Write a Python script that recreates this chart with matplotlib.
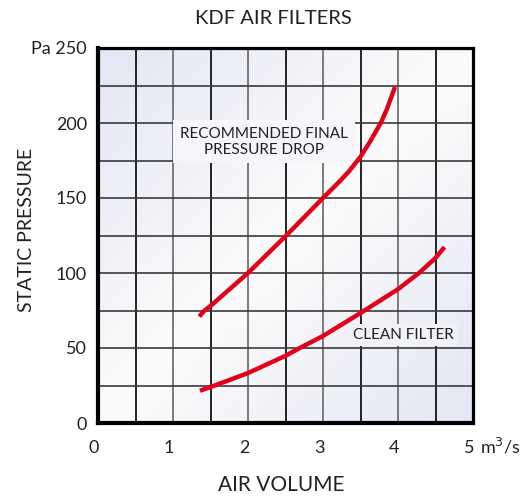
import numpy as np
import matplotlib
matplotlib.use('Agg')
import matplotlib.pyplot as plt
from matplotlib.transforms import ScaledTranslation

plt.rcParams['font.family'] = ['Lato', 'DejaVu Sans']

# Curve data (air volume m3/s, static pressure Pa)
final_x = [1.35, 1.42, 1.5, 2.0, 2.51, 3.0, 3.22, 3.35, 3.5, 3.62, 3.77, 3.85, 3.96]
final_y = [71, 75, 78, 100, 125, 150, 161, 168, 177.5, 187, 200, 209, 224]

clean_x = [1.36, 1.5, 1.75, 2.0, 2.5, 2.69, 3.0, 3.5, 4.0, 4.28, 4.5, 4.62]
clean_y = [21.5, 24.0, 28.6, 33.3, 44.8, 50, 58, 73.3, 89.2, 100, 110, 117.3]

x_ticks = [0, 1, 2, 3, 4, 5]
x_labels = ['0', '1', '2', '3', '4', '5']
y_ticks = [0, 50, 100, 150, 200, 250]
y_labels = ['0', '50', '100', '150', '200', 'Pa 250']

fig = plt.figure(figsize=(5.25, 5.01), dpi=100)
ax = fig.add_axes([98 / 525, 1 - 423 / 501, 375 / 525, 375 / 501])

# background: lavender in top-left / bottom-right corners, white along the other diagonal
u = np.linspace(0, 1, 200)
U, V = np.meshgrid(u, u)
t = np.abs(U - V)
img = np.ones((200, 200, 3))
c = np.array([0.89, 0.90, 0.955])
for k in range(3):
    img[:, :, k] = 0.985 - (0.985 - c[k]) * t ** 1.1
ax.imshow(img, extent=[0, 5, 0, 250], origin='lower', aspect='auto', zorder=0)

ax.set_xlim(0, 5)
ax.set_ylim(0, 250)

# grid lines
for gx in np.arange(0.5, 5, 0.5):
    col = '#000000' if gx % 1 else '#666666'
    ax.axvline(gx, color=col, lw=1.2, zorder=1)
for gy in np.arange(25, 250, 25):
    ax.axhline(gy, color='#3a3a3a', lw=1.2, zorder=1)

ax.plot(final_x, final_y, color='#e3001b', lw=3.2, zorder=3, solid_capstyle='butt')
ax.plot(clean_x, clean_y, color='#e3001b', lw=3.2, zorder=3, solid_capstyle='butt')

ax.text(2.21, 187.5, 'RECOMMENDED FINAL\nPRESSURE DROP', ha='center', va='center',
        multialignment='center', fontsize=11, color='#222222', zorder=2,
        linespacing=1.15,
        bbox=dict(boxstyle='square,pad=0.45', facecolor='#f5f5fa', edgecolor='none'))
ax.text(4.07, 58.8, 'CLEAN FILTER', ha='center', va='center', fontsize=11,
        color='#222222', zorder=2,
        bbox=dict(boxstyle='square,pad=0.25', facecolor='#f1f1f8', edgecolor='none'))

ax.set_xticks(x_ticks)
ax.set_xticklabels(x_labels)
ax.set_yticks(y_ticks)
ax.set_yticklabels(y_labels)
ax.tick_params(length=0, labelsize=13, colors='#222222')
ax.tick_params(axis='x', pad=12)
ax.tick_params(axis='y', pad=8)
shift = ScaledTranslation(-4 / 100, 0, fig.dpi_scale_trans)
for lab in ax.get_xticklabels():
    lab.set_transform(lab.get_transform() + shift)
ax.text(5.1, -20, 'm$^3$/s', ha='left', va='baseline',
        fontsize=13, color='#222222', clip_on=False)

for side in ['left', 'bottom']:
    ax.spines[side].set_linewidth(3)
for side in ['top', 'right']:
    ax.spines[side].set_linewidth(2.3)
for s in ax.spines.values():
    s.set_zorder(4)

fig.text(273 / 525, 1 - 18 / 501, 'KDF AIR FILTERS', ha='center', va='center',
         fontsize=14.5, color='#222222')
fig.text(281 / 525, 1 - 485 / 501, 'AIR VOLUME', ha='center', va='center',
         fontsize=15, color='#222222')
fig.text(27 / 525, 1 - 230 / 501, 'STATIC PRESSURE', ha='center', va='center',
         rotation=90, fontsize=14, color='#222222')

fig.savefig('out.png', dpi=100)
